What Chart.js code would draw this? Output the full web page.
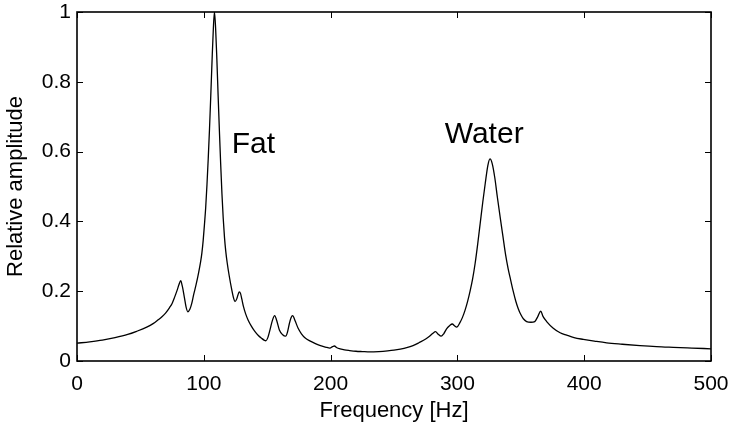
<!DOCTYPE html>
<html><head><meta charset="utf-8">
<script src="https://cdn.jsdelivr.net/npm/chart.js@4.4.1/dist/chart.umd.min.js"></script>
<style>html,body{margin:0;padding:0;background:#fff}#wrap{width:731px;height:425px}</style>
</head><body><div id="wrap"><canvas id="c" width="731" height="425"></canvas></div>
<script>
const frequency = [0,10,20,30,40,47,55,60,64,67,70,73,75,77,79,80.5,81.8,83,84.6,86,87.4,89,90.5,92,94,96,97.5,98.5,99.5,100.5,101.5,102.5,103.5,104.5,105.5,106.5,107.5,108.4,109.3,110.3,111.3,112.3,113.3,114.3,115.3,116.3,117.3,118.5,120,122,123.5,124.6,126,127,128,129,130,131.2,133,135,137.5,140.4,143,145.6,147.5,149,150.5,152.2,154,155.9,157.5,159.6,162,164.6,166,167.4,168.8,170.1,172,174.5,177,180,184,188,192,196,199.5,201.5,203,205,207.5,211,215,220,225,231,238,245,250,255,260,265,270,275,278,280.5,282.8,284.8,287.2,289.2,291.6,294,296,297.7,299.4,302,304,306,308,310,312,314,316,318,320,322,324,325.7,327.5,329.5,331.5,334,336,338,340,342,344,346,348,350,352,354.6,358,361,363.5,365.7,367.5,370.4,375.6,381,386.2,392,399.3,408,417.7,430,444,457,470.3,485,500];
const amplitude = [0.051,0.055,0.060,0.067,0.076,0.085,0.097,0.107,0.118,0.127,0.138,0.153,0.165,0.183,0.203,0.220,0.230,0.215,0.184,0.155,0.141,0.148,0.165,0.19,0.22,0.255,0.285,0.31,0.345,0.39,0.44,0.505,0.58,0.665,0.76,0.86,0.95,1.0,0.955,0.865,0.76,0.66,0.565,0.48,0.41,0.355,0.315,0.28,0.245,0.205,0.18,0.170,0.178,0.190,0.198,0.193,0.177,0.157,0.135,0.117,0.100,0.084,0.073,0.065,0.060,0.058,0.067,0.089,0.115,0.130,0.116,0.089,0.076,0.071,0.083,0.106,0.124,0.130,0.115,0.093,0.078,0.066,0.057,0.050,0.044,0.040,0.037,0.041,0.043,0.038,0.035,0.032,0.030,0.028,0.027,0.026,0.027,0.029,0.031,0.034,0.038,0.044,0.053,0.063,0.071,0.079,0.084,0.077,0.071,0.078,0.093,0.102,0.106,0.101,0.097,0.110,0.125,0.145,0.170,0.200,0.235,0.280,0.335,0.395,0.455,0.510,0.560,0.579,0.565,0.525,0.470,0.405,0.355,0.305,0.265,0.232,0.200,0.172,0.150,0.133,0.121,0.113,0.111,0.113,0.128,0.143,0.128,0.113,0.094,0.081,0.074,0.067,0.062,0.057,0.052,0.048,0.044,0.041,0.039,0.037,0.035];
const xTicks = [0,100,200,300,400,500];
const yTicks = [0,0.2,0.4,0.6,0.8,1];
const peakLabels = ['Fat','Water'];
const peakLabelX = [122,290];
const peakLabelY = [0.596,0.625];

const FONT = '"Liberation Sans", Arial, sans-serif';
const TICK_LEN = 6;

const framePlugin = {
  id: 'frame',
  afterDraw(chart) {
    const {ctx, chartArea: {left, right, top, bottom}, scales: {x, y}} = chart;
    ctx.save();
    ctx.strokeStyle = '#000';
    ctx.lineWidth = 1;
    const seg = (x1, y1, x2, y2) => { ctx.beginPath(); ctx.moveTo(x1, y1); ctx.lineTo(x2, y2); ctx.stroke(); };
    xTicks.forEach(v => {
      const px = Math.round(x.getPixelForValue(v)) + 0.5;
      seg(px, bottom, px, bottom - TICK_LEN);
      seg(px, top, px, top + TICK_LEN);
    });
    yTicks.forEach(v => {
      const py = Math.round(y.getPixelForValue(v)) + 0.5;
      seg(left, py, left + TICK_LEN, py);
      seg(right, py, right - TICK_LEN, py);
    });
    ctx.lineWidth = 1.6;
    ctx.strokeRect(left, top, right - left, bottom - top);
    ctx.fillStyle = '#000';
    ctx.font = '30px ' + FONT;
    ctx.textBaseline = 'alphabetic';
    ctx.textAlign = 'left';
    peakLabels.forEach((t, i) => {
      ctx.fillText(t, x.getPixelForValue(peakLabelX[i]), y.getPixelForValue(peakLabelY[i]));
    });
    ctx.restore();
  }
};

new Chart(document.getElementById('c'), {
  type: 'line',
  data: {
    datasets: [{
      data: frequency.map((f, i) => ({x: f, y: amplitude[i]})),
      borderColor: '#000',
      borderWidth: 1.3,
      pointRadius: 0,
      fill: false,
      cubicInterpolationMode: 'monotone'
    }]
  },
  options: {
    responsive: false,
    animation: false,
    events: [],
    layout: {padding: {left: 0, right: 20, top: 12, bottom: 0}},
    plugins: {legend: {display: false}, tooltip: {enabled: false}},
    scales: {
      x: {
        type: 'linear', min: 0, max: 500,
        afterBuildTicks: s => { s.ticks = xTicks.map(v => ({value: v})); },
        afterFit: s => { s.height = 64; s.paddingLeft = 0; s.paddingRight = 0; },
        grid: {display: false, drawTicks: false},
        border: {display: false},
        ticks: {color: '#000', font: {family: FONT, size: 21}, padding: 11, maxRotation: 0, autoSkip: false},
        title: {display: true, text: 'Frequency [Hz]', color: '#000', font: {family: FONT, size: 22}, padding: {top: 0, bottom: 1}}
      },
      y: {
        type: 'linear', min: 0, max: 1,
        afterBuildTicks: s => { s.ticks = yTicks.map(v => ({value: v})); },
        afterFit: s => { s.width = 77; s.paddingTop = 0; s.paddingBottom = 0; },
        grid: {display: false, drawTicks: false},
        border: {display: false},
        ticks: {color: '#000', font: {family: FONT, size: 21}, padding: 6, autoSkip: false, callback: v => String(v)},
        title: {display: true, text: 'Relative amplitude', color: '#000', font: {family: FONT, size: 22}, padding: {top: 3, bottom: 0}}
      }
    }
  },
  plugins: [framePlugin]
});
</script>
</body></html>
